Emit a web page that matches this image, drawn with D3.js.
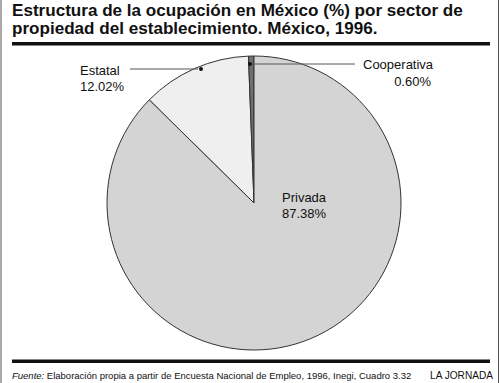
<!DOCTYPE html>
<html><head><meta charset="utf-8">
<script src="https://cdn.jsdelivr.net/npm/d3@7"></script>
<style>body{margin:0;background:#fff}svg{display:block}text{font-family:"Liberation Sans",Arial,sans-serif;fill:#111}
.narrow{font-family:"Liberation Sans Narrow","Liberation Sans",Arial,sans-serif}</style>
</head><body>
<svg id="c" width="500" height="383"></svg>
<script>
const categories = ["Estatal", "Cooperativa", "Privada"];
const values = [12.02, 0.60, 87.38];
const valueLabels = ["12.02%", "0.60%", "87.38%"];
const colors = ["#efefef", "#6f6f6f", "#d4d4d4"];
const titleLines = ["Estructura de la ocupación en México (%) por sector de", "propiedad del establecimiento. México, 1996."];
const sourceLabel = "Fuente:";
const sourceText = " Elaboración propia a partir de Encuesta Nacional de Empleo, 1996, Inegi, Cuadro 3.32";
const creditText = "LA JORNADA";

const svg = d3.select("#c");
function fit(sel, target){
  const w = sel.node().getComputedTextLength();
  const fs = parseFloat(sel.attr("font-size"));
  sel.attr("font-size", fs*target/w);
}
// frame
svg.append("line").attr("x1",1).attr("x2",1).attr("y1",0).attr("y2",383).attr("stroke","#555").attr("stroke-width",1);
svg.append("line").attr("x1",498.5).attr("x2",498.5).attr("y1",0).attr("y2",383).attr("stroke","#555").attr("stroke-width",1);

const t1 = svg.append("text").attr("x",12).attr("y",16).attr("font-size",16).attr("font-weight","bold").text(titleLines[0]);
fit(t1, 451);
svg.append("text").attr("x",12).attr("y",34).attr("font-size",t1.attr("font-size")).attr("font-weight","bold").text(titleLines[1]);
svg.append("rect").attr("x",12).attr("y",42).attr("width",478).attr("height",3.5).attr("fill","#111");
svg.append("rect").attr("x",12).attr("y",359.5).attr("width",478).attr("height",3.5).attr("fill","#111");

const cx=254, cy=203, r=147;
const total = d3.sum(values);
const start = -(values[0]+values[1])/total*2*Math.PI;
const pie = d3.pie().sort(null).value(d=>d).startAngle(start).endAngle(start+2*Math.PI);
const arcs = pie(values);
const arc = d3.arc().innerRadius(0).outerRadius(r);
const g = svg.append("g").attr("transform",`translate(${cx},${cy})`);
g.selectAll("path").data(arcs).join("path").attr("d",arc)
  .attr("fill",(d,i)=>colors[i]).attr("stroke","#333").attr("stroke-width",1);

const fs=13;
// Estatal
g.append("circle").attr("cx",201-cx).attr("cy",69-cy).attr("r",2).attr("fill","#111");
svg.append("line").attr("x1",130).attr("x2",198).attr("y1",69).attr("y2",69).attr("stroke","#555").attr("stroke-width",1);
svg.append("text").attr("x",80).attr("y",75).attr("font-size",fs).text(categories[0]);
svg.append("text").attr("x",80).attr("y",91).attr("font-size",fs).text(valueLabels[0]);
// Cooperativa
g.append("circle").attr("cx",250-cx).attr("cy",64-cy).attr("r",2).attr("fill","#111");
svg.append("line").attr("x1",252).attr("x2",355).attr("y1",64).attr("y2",64).attr("stroke","#555").attr("stroke-width",1);
svg.append("text").attr("x",363).attr("y",69).attr("font-size",fs).text(categories[1]);
svg.append("text").attr("x",431).attr("y",86).attr("font-size",fs).attr("text-anchor","end").text(valueLabels[1]);
// Privada
svg.append("text").attr("x",282).attr("y",202).attr("font-size",fs).text(categories[2]);
svg.append("text").attr("x",282).attr("y",218).attr("font-size",fs).text(valueLabels[2]);

// footer
const f = svg.append("text").attr("class","narrow").attr("x",12).attr("y",379).attr("font-size",11);
f.append("tspan").attr("font-style","italic").text(sourceLabel);
f.append("tspan").text(sourceText);
fit(f, 400);
const c = svg.append("text").attr("class","narrow").attr("x",493).attr("y",379).attr("font-size",11).attr("text-anchor","end").text(creditText);
fit(c, 63);
</script>
</body></html>
